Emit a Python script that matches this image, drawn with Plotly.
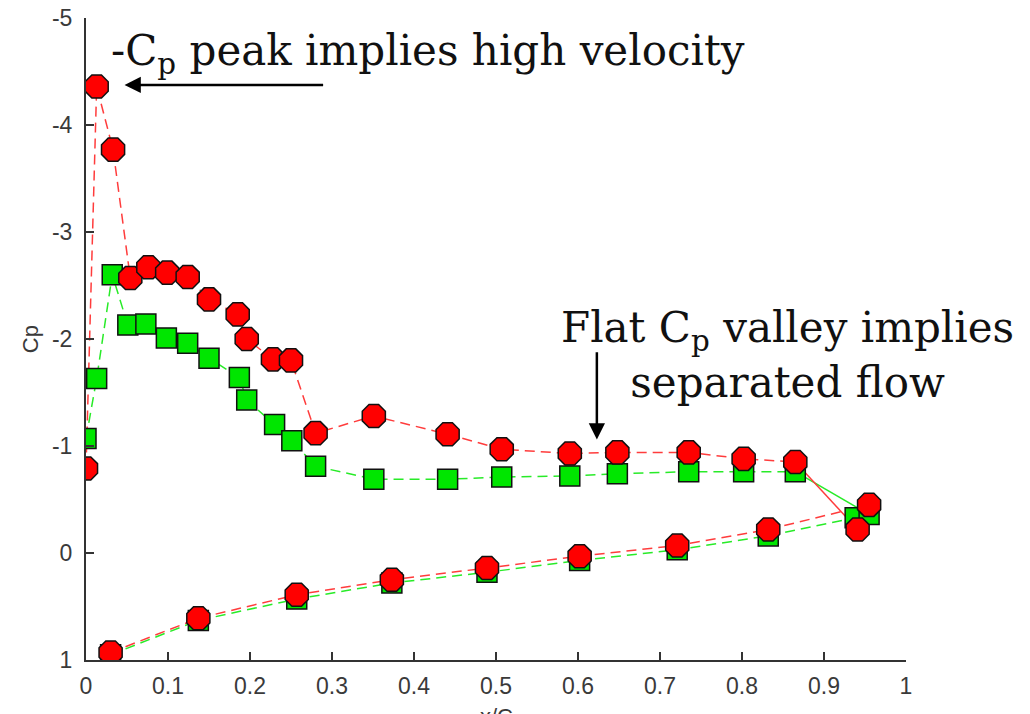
import plotly.graph_objects as go

# ---- data ----
red_upper_x = [0.0, 0.013, 0.033, 0.054, 0.076, 0.099, 0.124, 0.150, 0.185, 0.196,
               0.228, 0.250, 0.280, 0.351, 0.441, 0.507, 0.590, 0.648, 0.735, 0.802, 0.865]
red_upper_cp = [-0.79, -4.36, -3.77, -2.57, -2.67, -2.62, -2.58, -2.37, -2.23, -2.00,
                -1.81, -1.80, -1.12, -1.28, -1.11, -0.97, -0.93, -0.94, -0.94, -0.88, -0.85]
red_te_x = [0.941, 0.955]
red_te_cp = [-0.22, -0.45]
red_lower_x = [0.030, 0.137, 0.257, 0.373, 0.489, 0.602, 0.721, 0.832]
red_lower_cp = [0.93, 0.61, 0.39, 0.25, 0.14, 0.03, -0.07, -0.22]

green_upper_x = [0.0, 0.013, 0.032, 0.051, 0.073, 0.098, 0.124, 0.150, 0.187, 0.196,
                 0.230, 0.251, 0.280, 0.351, 0.441, 0.507, 0.590, 0.648, 0.735, 0.802, 0.865]
green_upper_cp = [-1.07, -1.63, -2.60, -2.13, -2.14, -2.01, -1.96, -1.82, -1.64, -1.43,
                  -1.20, -1.05, -0.81, -0.69, -0.69, -0.71, -0.72, -0.74, -0.76, -0.76, -0.76]
green_te_x = [0.938, 0.955]
green_te_cp = [-0.33, -0.36]
green_lower_x = [0.030, 0.137, 0.257, 0.373, 0.489, 0.602, 0.721, 0.832]
green_lower_cp = [0.95, 0.63, 0.43, 0.28, 0.18, 0.07, -0.03, -0.16]

x_ticks = [0, 0.1, 0.2, 0.3, 0.4, 0.5, 0.6, 0.7, 0.8, 0.9, 1]
x_tick_labels = ["0", "0.1", "0.2", "0.3", "0.4", "0.5", "0.6", "0.7", "0.8", "0.9", "1"]
y_ticks = [-5, -4, -3, -2, -1, 0, 1]
y_tick_labels = ["-5", "-4", "-3", "-2", "-1", "0", "1"]

RED_LINE = "rgba(255,60,60,1)"
GREEN_LINE = "rgba(40,235,40,1)"
DASH = "10px,6px"

fig = go.Figure()

def line(x, y, color, dash):
    fig.add_trace(go.Scatter(x=x, y=y, mode="lines",
                             line=dict(color=color, width=1.5, dash=dash),
                             hoverinfo="skip", showlegend=False))

# green lines
line(green_upper_x, green_upper_cp, GREEN_LINE, DASH)
line([green_upper_x[-1], green_te_x[1]], [green_upper_cp[-1], green_te_cp[1]], GREEN_LINE, "solid")
line(green_lower_x + [green_te_x[0]], green_lower_cp + [green_te_cp[0]], GREEN_LINE, DASH)
# red lines
line(red_upper_x, red_upper_cp, RED_LINE, DASH)
line([red_upper_x[-1], red_te_x[0]], [red_upper_cp[-1], red_te_cp[0]], RED_LINE, "solid")
line(red_lower_x + [red_te_x[1]], red_lower_cp + [red_te_cp[1]], RED_LINE, DASH)

# markers
fig.add_trace(go.Scatter(
    x=green_upper_x + green_te_x + green_lower_x,
    y=green_upper_cp + green_te_cp + green_lower_cp,
    mode="markers",
    marker=dict(symbol="square", size=20, color="#00e600",
                line=dict(color="#111111", width=1.5)),
    showlegend=False))
fig.add_trace(go.Scatter(
    x=red_upper_x + red_te_x + red_lower_x,
    y=red_upper_cp + red_te_cp + red_lower_cp,
    mode="markers",
    marker=dict(symbol="octagon", size=25, color="#ff0000",
                line=dict(color="#111111", width=1.5)),
    showlegend=False))

TXT = dict(family="DejaVu Serif", size=42, color="#111111")
LBL = dict(family="Liberation Sans", size=22, color="#3a3a3a")

fig.add_annotation(x=0.028, y=-4.665, xref="x", yref="y", xanchor="left", yanchor="middle",
                   text="-C<sub>p</sub> peak implies high velocity", showarrow=False, font=TXT)
fig.add_annotation(x=0.047, y=-4.375, ax=0.291, ay=-4.375, xref="x", yref="y",
                   axref="x", ayref="y", text="", showarrow=True, arrowhead=2,
                   arrowsize=1.3, arrowwidth=2.5, arrowcolor="#000000")
fig.add_annotation(x=0.855, y=-1.855, xref="x", yref="y", xanchor="center", yanchor="middle",
                   text="Flat C<sub>p</sub> valley implies<br>separated flow",
                   showarrow=False, font=TXT, align="center")
fig.add_annotation(x=0.623, y=-1.06, ax=0.623, ay=-1.89, xref="x", yref="y",
                   axref="x", ayref="y", text="", showarrow=True, arrowhead=2,
                   arrowsize=1.3, arrowwidth=2.5, arrowcolor="#000000")
# axis titles
fig.add_annotation(x=0.5, y=-0.066, xref="paper", yref="paper", xanchor="center", yanchor="top",
                   text="x/C", showarrow=False, font=LBL)
fig.add_annotation(x=-0.068, y=0.5, xref="paper", yref="paper", xanchor="center", yanchor="middle",
                   text="Cp", textangle=-90, showarrow=False, font=LBL)

AX = dict(showgrid=False, zeroline=False, showline=True, linecolor="#333333", linewidth=2,
          ticks="inside", ticklen=8, tickwidth=1.5, tickcolor="#333333", automargin=False,
          tickfont=dict(family="Liberation Sans", size=23, color="#3a3a3a"), mirror=False)

fig.update_layout(
    width=1030, height=714,
    margin=dict(l=86, r=124, t=18, b=54),
    paper_bgcolor="white", plot_bgcolor="white",
    xaxis=dict(range=[0, 1], tickvals=x_ticks, ticktext=x_tick_labels, ticklabelstandoff=4, **AX),
    yaxis=dict(range=[1, -5], tickvals=y_ticks, ticktext=y_tick_labels, ticklabelstandoff=7, **AX),
)

fig.write_html("out.html")
